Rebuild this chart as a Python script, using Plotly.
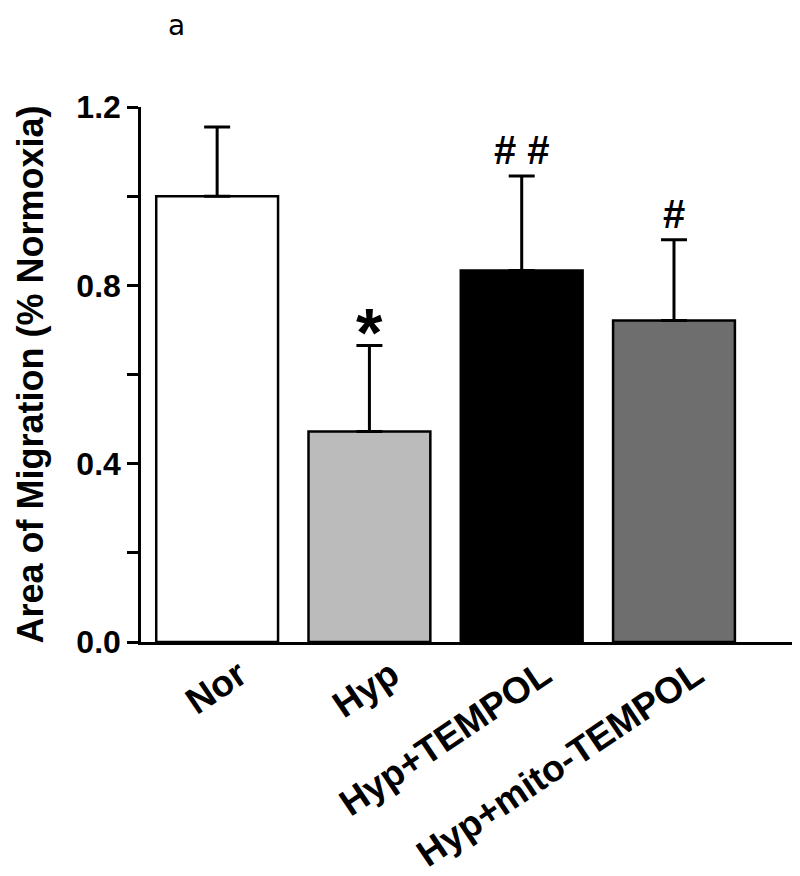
import plotly.graph_objects as go

categories = ["Nor", "Hyp", "Hyp+TEMPOL", "Hyp+mito-TEMPOL"]
means = [1.0, 0.472, 0.833, 0.721]
sem_upper = [0.155, 0.193, 0.212, 0.181]
significance = ["", "*", "# #", "#"]
bar_colors = ["#ffffff", "#bbbbbb", "#000000", "#6e6e6e"]
y_ticks = [0.0, 0.4, 0.8, 1.2]
y_tick_labels = ["0.0", "0.4", "0.8", "1.2"]

FONT = "Liberation Sans, Arial, sans-serif"
L, T, B = 133, 99, 242
PLOT_H = 876 - T - B
PLOT_W = 800 - L

fig = go.Figure()
fig.add_trace(go.Bar(
    x=list(range(len(categories))),
    y=means,
    width=0.8,
    marker=dict(color=bar_colors, line=dict(color="black", width=2.5)),
    error_y=dict(type="data", symmetric=False, array=sem_upper,
                 arrayminus=[0] * len(means), color="black",
                 thickness=3, width=13),
    showlegend=False,
))

for i, s in enumerate(significance):
    if not s:
        continue
    is_star = s == "*"
    fig.add_annotation(
        x=i, y=means[i] + sem_upper[i], xref="x", yref="y",
        text="<b>%s</b>" % s, showarrow=False,
        font=dict(family=FONT, size=68 if is_star else 40, color="black"),
        yanchor="bottom", yshift=-26 if is_star else 2,
    )

fig.add_annotation(
    x=(176 - 8 - L) / PLOT_W, y=1 + T / PLOT_H,
    xref="paper", yref="paper", text="a", showarrow=False,
    xanchor="center", yanchor="top", borderpad=0,
    font=dict(family="DejaVu Sans, sans-serif", size=28, color="black"),
)

fig.update_layout(
    width=800, height=876,
    margin=dict(l=L, r=0, t=T, b=B),
    paper_bgcolor="white", plot_bgcolor="white",
    font=dict(family=FONT, color="black"),
)

fig.update_xaxes(
    range=[-0.5, 3.88],
    tickmode="array", tickvals=list(range(len(categories))),
    ticktext=["<b>%s</b>" % c for c in categories],
    tickangle=-34, tickfont=dict(family=FONT, size=37, color="black"),
    ticklabelshift=22, ticklabelstandoff=-6,
    showline=True, linecolor="black", linewidth=2.5,
    ticks="", showgrid=False, zeroline=False,
)
fig.update_yaxes(
    range=[0, 1.2],
    tickmode="array", tickvals=y_ticks,
    ticktext=["<b>%s</b>" % t for t in y_tick_labels],
    tickfont=dict(family=FONT, size=32, color="black"),
    ticks="outside", ticklen=11, tickwidth=2.5, tickcolor="black",
    minor=dict(tickmode="array", tickvals=[0.2, 0.6, 1.0], ticks="outside",
               ticklen=11, tickwidth=2.5, tickcolor="black"),
    showline=True, linecolor="black", linewidth=2.5,
    showgrid=False, zeroline=False,
    title=dict(text="<b>Area of Migration (% Normoxia)</b>",
               font=dict(family=FONT, size=36, color="black"), standoff=22),
)

fig.write_html("out.html")
